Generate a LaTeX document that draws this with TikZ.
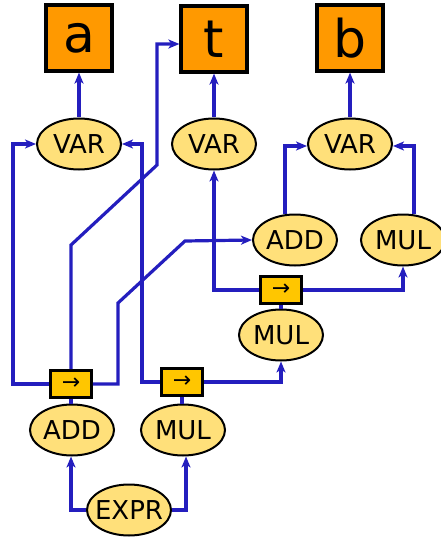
\documentclass[tikz,border=0pt]{standalone}
\usepackage{fontspec}
\setmainfont{DejaVu Sans}
\usepackage{xcolor}
\definecolor{linkblue}{RGB}{36,30,190}
\definecolor{termorange}{RGB}{255,153,0}
\definecolor{nodeyellow}{RGB}{255,224,122}
\definecolor{pairgold}{RGB}{255,198,0}
\usetikzlibrary{arrows.meta, positioning, shapes.geometric, calc}

\tikzset{
  letterbox/.style={draw=black, line width=3.2pt, fill=termorange, minimum size=66pt,
    inner sep=0pt, font=\fontsize{52}{52}\selectfont},
  opnode/.style={ellipse, draw=black, line width=2pt, fill=nodeyellow,
    minimum width=84pt, minimum height=51pt, inner xsep=-8pt, inner ysep=0pt,
    font=\fontsize{26}{26}\selectfont},
  pairbox/.style={draw=black, line width=2.6pt, fill=pairgold, minimum width=41pt,
    minimum height=27pt, inner sep=0pt, font=\fontsize{22}{22}\selectfont},
  link/.style={draw=linkblue, line width=3.2pt, -{Stealth[length=11pt, width=9pt, inset=3pt]}},
  stem/.style={draw=linkblue, line width=3.2pt}
}

\begin{document}
\begin{tikzpicture}[x=1pt, y=-1pt]
  \useasboundingbox (0,0) rectangle (441,540);

  % terms
  \node[letterbox] (boxa) at (79,38) {a};
  \node[letterbox] (boxt) at (214,39) {t};
  \node[letterbox] (boxb) at (350,38) {b};

  % variables
  \node[opnode] (vara) at (79,144) {VAR};
  \node[opnode] (vart) at (214,144) {VAR};
  \node[opnode] (varb) at (350,144) {VAR};

  % right part
  \node[opnode] (addr) at (295,240) {ADD};
  \node[opnode] (mulr) at (403,240) {MUL};
  \node[pairbox] (arrR) at (281,290) {→};
  \node[opnode] (mulm) at (281,335) {MUL};

  % bottom part
  \node[pairbox] (arrL) at (71,384) {→};
  \node[pairbox] (arrM) at (182,382) {→};
  \node[opnode] (addl) at (72,430) {ADD};
  \node[opnode] (mulb) at (183,430) {MUL};
  \node[opnode] (expr) at (129,510) {EXPR};

  % links to the terms
  \draw[link] (vara) -- (boxa);
  \draw[link] (vart) -- (boxt);
  \draw[link] (varb) -- (boxb);

  % from the root
  \draw[link] (expr.west) -| ([xshift=-1pt]addl.south);
  \draw[link] (expr.east) -| ([xshift=3pt]mulb.south);
  \draw[stem] (arrL.south) -- (arrL.south |- addl.north);
  \draw[stem] (arrM.south) -- (arrM.south |- mulb.north);
  \draw[stem] (mulm.north) -- (arrR.south);

  % left pair
  \draw[link] (arrL.west) -| (13,144) -- (vara.west);
  \draw[link] (arrL.north) -- (arrL.north |- 0,245) -- (157,165) |- ([yshift=-5pt]boxt.west);
  \draw[link] (arrL.east) -| (118,303) -- (185,241) -- (addr.west);

  % middle pair
  \draw[link] (arrM.west) -| (142,144) -- (vara.east);
  \draw[link] (arrM.east) -| (mulm.south);

  % right pair
  \draw[link] (arrR.west) -| (vart.south);
  \draw[link] (arrR.east) -| (mulr.south);
  \draw[link] ([xshift=-10pt]addr.north) |- ([yshift=-2pt]varb.west);
  \draw[link] ([xshift=11pt]mulr.north) |- ([yshift=-2pt]varb.east);
\end{tikzpicture}
\end{document}
